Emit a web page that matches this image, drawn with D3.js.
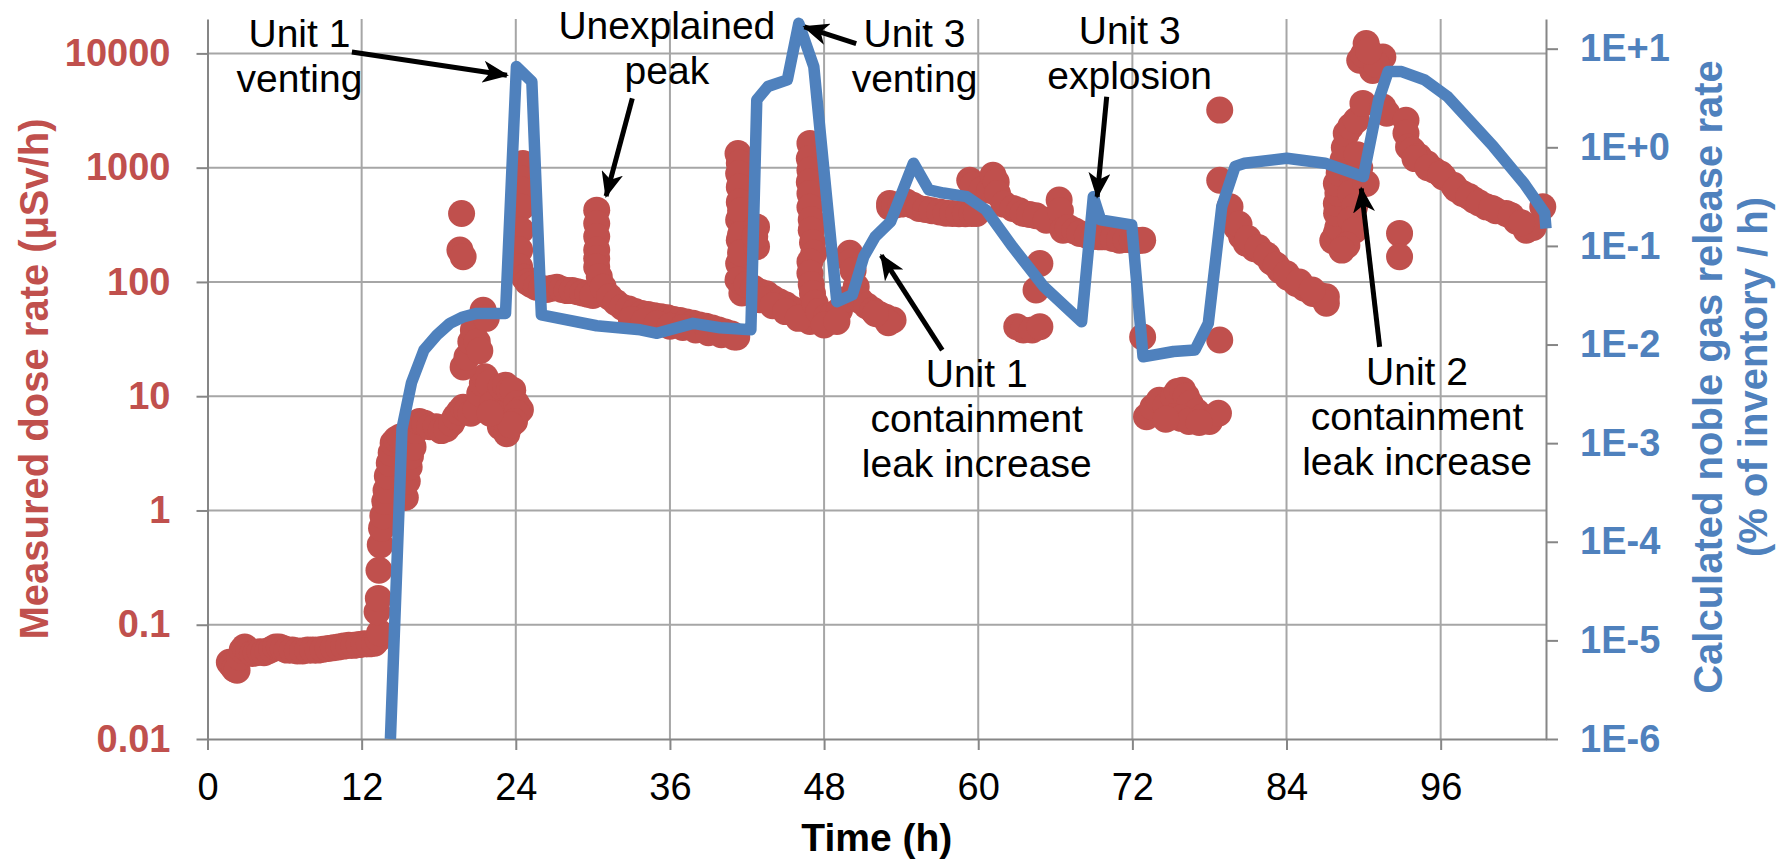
<!DOCTYPE html>
<html>
<head>
<meta charset="utf-8">
<script src="https://cdn.jsdelivr.net/npm/d3@7"></script>
<style>
  body { margin: 0; background: #fff; }
  text { font-family: "Liberation Sans", Arial, sans-serif; }
</style>
</head>
<body>
<svg id="chart" width="1777" height="860"></svg>
<script>
// ---- data ----
const hourTicks = [0, 12, 24, 36, 48, 60, 72, 84, 96];
const doseTicks = [0.01, 0.1, 1, 10, 100, 1000, 10000];
const doseTickLabels = ["0.01", "0.1", "1", "10", "100", "1000", "10000"];
const releaseTicks = [1e-6, 1e-5, 1e-4, 1e-3, 1e-2, 1e-1, 1, 10];
const releaseTickLabels = ["1E-6", "1E-5", "1E-4", "1E-3", "1E-2", "1E-1", "1E+0", "1E+1"];

// calculated noble gas release rate (% of inventory / h)
const releaseHours = [14.24, 15.14, 15.88, 16.85, 17.86, 18.87, 19.88, 20.95, 23.2, 24.05, 25.25, 25.99, 30.3,
  33.7, 35.0, 37.8, 39.9, 42.3, 42.76, 43.62, 45.14, 46.03, 47.2, 48.99, 50.2, 51.09, 51.98, 53.18, 54.96,
  56.15, 57.3, 59.1, 60.6, 62.68, 65.1, 68.05, 68.96, 69.53, 71.95, 72.83, 75.2, 76.87, 77.91, 78.96, 80.0,
  80.74, 84.02, 87.0, 89.98, 91.17, 91.91, 92.96, 94.75, 96.54, 100.1, 102.5, 104.1, 104.2];
const releaseRates = [1e-6, 1.4e-3, 4.1e-3, 8.8e-3, 0.0125, 0.0164, 0.019, 0.0207, 0.0207, 6.58, 4.63, 0.02, 0.0155,
  0.0141, 0.013, 0.0164, 0.0148, 0.0141, 3.03, 4.13, 4.83, 18.1, 6.58, 0.0272, 0.0319, 0.078, 0.124, 0.176, 0.69,
  0.37, 0.344, 0.316, 0.232, 0.098, 0.0387, 0.017, 0.316, 0.184, 0.163, 0.0075, 0.0085, 0.0088, 0.0164, 0.25, 0.64,
  0.69, 0.775, 0.69, 0.505, 3.03, 5.86, 5.86, 4.83, 3.27, 1.02, 0.43, 0.215, 0.15];

// measured dose rate (µSv/h): [hour, value]
const doseReadings = [
  [1.7,0.047],[1.9,0.044],[2.1,0.041],[2.3,0.040],[2.5,0.052],[2.7,0.060],[2.9,0.064],[3.2,0.060],[3.5,0.056],
  [3.8,0.057],[4.1,0.058],[4.4,0.057],[4.7,0.059],[5.0,0.061],[5.3,0.064],[5.6,0.064],[5.9,0.062],[6.2,0.060],
  [6.6,0.060],[7.0,0.059],[7.4,0.059],[7.8,0.060],[8.2,0.060],[8.6,0.060],[9.0,0.061],[9.4,0.062],[9.8,0.063],
  [10.2,0.064],[10.6,0.065],[11.0,0.066],[11.4,0.066],[11.8,0.067],[12.2,0.068],[12.6,0.068],[13.0,0.069],
  [13.3,0.075],[13.4,0.085],
  [13.2,0.13],[13.3,0.17],[13.35,0.3],[13.45,0.5],[13.55,0.7],[13.65,0.9],[13.8,1.2],[13.9,1.5],[14.0,2.0],
  [14.15,2.6],[14.3,3.2],[14.45,3.9],[14.7,4.2],[15.0,4.4],[15.4,1.3],[15.55,1.8],[15.7,2.4],[15.8,3.0],[16.0,3.6],
  [16.2,5.0],
  [16.5,6.0],[16.9,5.8],[17.3,5.4],[17.8,5.4],[18.2,5.0],[18.6,5.2],[19.0,5.8],[19.3,6.6],[19.6,7.3],[19.9,8.0],
  [20.2,7.5],[20.5,7.1],[20.9,7.6],[21.2,10.6],[21.4,13],[21.6,14.8],[19.9,18],[20.2,22],[20.5,30],[20.7,37.9],
  [21.0,30],[21.2,25],[21.46,56.6],[21.7,48],[21.9,13],[22.2,8.6],[22.5,7.0],[22.8,5.4],[23.3,4.7],[22.86,12.1],
  [23.2,12.5],[23.5,11.3],[23.76,11.3],[24.06,8.6],[24.36,7.6],[24.1,7.1],[23.9,6.0],[23.6,5.6],[22.0,7.1],
  [19.78,397],[19.65,190],[19.9,166],
  [24.55,1090],[24.4,800],[24.4,640],[24.45,450],[24.4,284],[24.3,190],[24.3,135],[24.65,110],[24.9,100],
  [25.2,95],[25.6,90],[26.0,88],[26.4,86],[26.8,88],[27.2,90],[27.6,86],[28.0,84],[28.4,84],[28.8,82],[29.2,80],
  [29.6,78],[30.0,76],
  [30.3,425],[30.3,325],[30.3,250],[30.3,190],[30.3,160],[30.3,135],[30.5,111],[30.8,90],[31.3,74],
  [31.8,66],[32.3,60],[32.8,58],[33.3,55],[33.8,53],[34.3,52],[34.8,50.5],[35.3,49.5],[35.8,48.5],[36.3,47],
  [36.8,46],[37.3,44.5],[37.8,43.4],[38.3,42],[38.8,41],[39.3,39.5],[39.8,38],[40.3,36.5],[40.8,35],[41.2,33],
  [33.0,47],[34.0,45],[35.0,43],[36.0,41],[37.0,40],[38.0,38],[39.0,36],[40.0,34.5],[41.0,33],
  [41.3,1330],[41.4,1100],[41.35,890],[41.4,676],[41.4,500],[41.35,348],[41.4,232],[41.35,145],[41.3,104],
  [41.5,420],[41.5,260],[41.5,180],[42.74,303],[42.74,203],[42.6,250],
  [41.6,80],[42.0,95],[42.5,88],[43.0,82],[43.5,79],[44.0,72],[44.5,67],[45.0,63],[45.5,58],[46.0,54],[46.5,50],
  [46.9,45],[43.0,70],[44.0,62],[45.0,55],[46.0,48],
  [46.9,1630],[46.85,1200],[46.9,950],[46.85,750],[46.9,595],[46.9,450],[47.0,350],[47.0,284],[47.1,220],
  [47.2,178],[46.9,150],[46.9,119],[47.0,95],[47.1,79],[47.3,65],
  [47.6,55],[48.2,49.5],[48.7,52],[49.2,56.6],[49.6,70],[50.0,178],[50.1,150],[50.26,126],[50.5,90.6],[50.8,69],
  [51.3,62],[51.8,56.6],[52.3,52],[52.8,49],[53.37,46.4],[53.0,44],[52.0,53],[48.0,42],[49.0,45],
  [53.1,454],[53.1,486],[53.5,470],[54.0,480],[54.4,500],[54.9,470],[55.4,440],[55.9,430],[56.4,420],[57.0,410],
  [57.5,400],[58.0,398],[58.5,395],[59.0,395],[59.5,398],[59.86,398],
  [59.34,776],[59.6,700],[60.3,640],[60.9,635],[61.15,859],[61.4,750],[61.5,595],[62.0,480],[62.7,440],[63.2,420],
  [63.5,398],[64.0,390],[64.5,380],[65.3,347],[66.3,520],[66.4,420],[66.6,284],[67.0,300],[67.5,280],[67.9,266],
  [68.5,255],[69.0,250],[69.5,248],[70.0,248],[70.5,240],[71.0,232],[71.5,235],[72.0,232],[72.4,230],[72.8,232],
  [64.8,145],[64.5,85],[63.0,40.5],[63.5,38],[64.2,38],[64.8,40.5],[72.8,33],
  [73.1,6.6],[73.6,8],[74.1,9.2],[74.6,8.2],[75.2,9.9],[75.5,11],[75.9,11.3],[76.2,10],[76.5,8.6],[77.0,7.3],
  [77.5,6.6],[78.0,6.0],[78.7,7.1],[75.2,6.6],[75.8,6.4],[76.4,6.0],[77.2,5.9],[74.6,6.3],
  [78.8,31],[78.8,3190],
  [78.8,776],[79.6,454],[80.1,302],[80.5,250],[80.87,217],[81.5,195],[82.2,178],[82.8,150],[83.5,126],[84.1,110],
  [84.76,97],[85.4,88],[86.05,79.4],[86.6,76],[87.1,74],[87.1,65],
  [80.3,320],[81.0,240],[81.8,200],[82.5,170],[83.2,140],[84.0,118],[85.0,100],[86.0,85],
  [87.6,230],[87.88,266],[88.4,248],[88.0,300],[87.9,400],[87.88,486],[88.0,600],[87.88,726],[88.1,900],
  [88.4,1165],[88.5,1500],[88.65,1995],[89.0,2300],[89.43,2600],[89.95,3650],[89.17,830],[89.0,600],[89.3,454],
  [89.0,350],[89.3,284],[88.7,210],[88.3,190],[90.2,726],[89.7,1000],[89.5,1300],
  [90.2,12200],[89.7,8700],[91.5,9300],[90.7,7100],[90.0,9800],[91.0,8000],[90.4,10500],
  [91.5,3400],[91.8,3000],
  [93.3,2600],[93.3,2000],[93.5,1520],[93.8,1420],[94.3,1250],[94.9,1090],[95.5,950],[96.2,830],[97.0,700],
  [97.7,595],[98.6,520],[99.55,454],[100.3,420],[101.1,398],[101.9,340],[102.66,284],[103.2,300],[103.95,454],
  [94.0,1200],[95.0,1000],[96.0,880],[97.2,650],[98.2,560],[99.0,490],[100.0,440],[101.5,380],[102.3,330],
  [92.8,266],[92.8,166]
];

// call-outs, placed in (hour, dose rate) coordinates
const notes = [
  { lines: ["Unit 1", "venting"], at: [7.16, 11400], from: [11.24, 10300], to: [23.31, 6440] },
  { lines: ["Unexplained", "peak"], at: [35.76, 13240], from: [33.07, 4040], to: [31.03, 564] },
  { lines: ["Unit 3", "venting"], at: [55.04, 11400], from: [50.5, 12200], to: [46.47, 17060] },
  { lines: ["Unit 3", "explosion"], at: [71.79, 12200], from: [70.0, 4170], to: [69.26, 556] },
  { lines: ["Unit 1", "containment", "leak increase"], at: [59.88, 12.08], from: [57.2, 25.3], to: [52.45, 171] },
  { lines: ["Unit 2", "containment", "leak increase"], at: [94.16, 12.5], from: [91.25, 27], to: [89.82, 658] }
];

// ---- chart ----
const W = 1777, H = 860;
const margin = { top: 19, right: 231, bottom: 121, left: 207.5 };
const svg = d3.select("#chart");
const plotL = margin.left, plotR = W - margin.right, plotT = margin.top, plotB = H - margin.bottom;

const x = d3.scaleLinear().domain([0, 104.2]).range([plotL, plotR]);
const yDose = d3.scaleLog().domain([0.01, 20000]).range([plotB, plotT]);
const yRel = d3.scaleLog().domain([1e-6, 20]).range([plotB, plotT]);

const red = "#C0504D", blue = "#4F81BD", gridC = "#A6A6A6", axisC = "#868686";

// gridlines
const grid = svg.append("g").attr("stroke", gridC).attr("stroke-width", 2);
grid.selectAll(".gv").data(hourTicks.slice(1)).join("line").attr("class", "gv")
  .attr("x1", d => x(d)).attr("x2", d => x(d)).attr("y1", plotT).attr("y2", plotB);
grid.selectAll(".gh").data(doseTicks.slice(1)).join("line").attr("class", "gh")
  .attr("x1", plotL).attr("x2", plotR).attr("y1", d => yDose(d)).attr("y2", d => yDose(d));

// axes
function styleAxis(g, size, weight, color) {
  g.select(".domain").attr("stroke", axisC).attr("stroke-width", 2);
  g.selectAll(".tick line").attr("stroke", axisC).attr("stroke-width", 2);
  g.selectAll(".tick text").attr("fill", color).style("font-size", size + "px")
    .style("font-weight", weight).style("font-family", '"Liberation Sans", Arial, sans-serif');
}

svg.append("g").attr("transform", `translate(0,${plotB})`)
  .call(d3.axisBottom(x).tickValues(hourTicks).tickFormat(d => d).tickSize(11).tickSizeOuter(0).tickPadding(23))
  .call(g => styleAxis(g, 38, "normal", "#000"));

svg.append("g").attr("transform", `translate(${plotL},0)`)
  .call(d3.axisLeft(yDose).tickValues(doseTicks).tickFormat((d, i) => doseTickLabels[i])
    .tickSize(11).tickSizeOuter(0).tickPadding(26))
  .call(g => styleAxis(g, 38, "bold", red));

svg.append("g").attr("transform", `translate(${plotR},0)`)
  .call(d3.axisRight(yRel).tickValues(releaseTicks).tickFormat((d, i) => releaseTickLabels[i])
    .tickSize(12).tickSizeOuter(0).tickPadding(22))
  .call(g => styleAxis(g, 38, "bold", blue));

// measured dose rate
svg.append("g").selectAll("circle").data(doseReadings).join("circle")
  .attr("cx", d => x(d[0])).attr("cy", d => yDose(d[1])).attr("r", 13.5).attr("fill", red);

// calculated release rate
const line = d3.line().x(d => x(d[0])).y(d => yRel(d[1]));
svg.append("path")
  .datum(releaseHours.map((h, i) => [h, releaseRates[i]]))
  .attr("d", line).attr("fill", "none").attr("stroke", blue)
  .attr("stroke-width", 11.5).attr("stroke-linejoin", "round");

// arrows and call-out text
svg.append("defs").append("marker")
  .attr("id", "head").attr("markerUnits", "userSpaceOnUse")
  .attr("viewBox", "0 0 26 22").attr("markerWidth", 26).attr("markerHeight", 22)
  .attr("refX", 24).attr("refY", 11).attr("orient", "auto")
  .append("path").attr("d", "M0,0 L26,11 L0,22 L7,11 Z").attr("fill", "#000");

const noteG = svg.append("g");
noteG.selectAll("line").data(notes).join("line")
  .attr("x1", d => x(d.from[0])).attr("y1", d => yDose(d.from[1]))
  .attr("x2", d => x(d.to[0])).attr("y2", d => yDose(d.to[1]))
  .attr("stroke", "#000").attr("stroke-width", 5).attr("marker-end", "url(#head)");

noteG.selectAll("text").data(notes).join("text")
  .attr("x", d => x(d.at[0])).attr("y", d => yDose(d.at[1]))
  .attr("text-anchor", "middle").style("font-size", "39px").attr("fill", "#000")
  .selectAll("tspan").data(d => d.lines.map(t => ({ t, cx: x(d.at[0]) }))).join("tspan")
  .attr("x", d => d.cx).attr("dy", (d, i) => i ? 45 : 0).text(d => d.t);

// axis titles
svg.append("text").attr("x", (plotL + plotR) / 2).attr("y", 851)
  .attr("text-anchor", "middle").style("font-size", "39px").style("font-weight", "bold")
  .text("Time (h)");

svg.append("text").attr("transform", `translate(47.5,${(plotT + plotB) / 2}) rotate(-90)`)
  .attr("text-anchor", "middle").style("font-size", "40px").style("font-weight", "bold")
  .attr("fill", red).text("Measured dose rate (µSv/h)");

const rightTitle = ["Calculated noble gas release rate", "(% of inventory / h)"];
svg.append("g").selectAll("text").data(rightTitle).join("text")
  .attr("transform", (d, i) => `translate(${1722 + i * 45},${(plotT + plotB) / 2 - 2}) rotate(-90)`)
  .attr("text-anchor", "middle").style("font-size", "40px").style("font-weight", "bold")
  .attr("fill", blue).text(d => d);
</script>
</body>
</html>
